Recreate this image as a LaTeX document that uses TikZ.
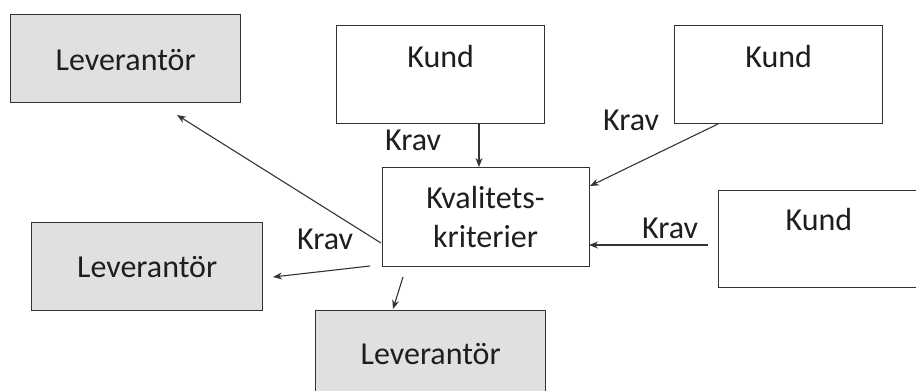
\documentclass[tikz,border=0pt]{standalone}
\usepackage{fontspec}
\setmainfont{Carlito}
\usetikzlibrary{arrows.meta}
\definecolor{boxgray}{HTML}{E0E0E0}
\definecolor{linecol}{HTML}{333333}
\definecolor{txtcol}{HTML}{1E1E1E}
\begin{document}
\begin{tikzpicture}[x=1pt,y=-1pt,
  every node/.style={font=\fontsize{32}{39}\selectfont, text=txtcol},
  boxbase/.style={draw=linecol, line width=1.4pt, rectangle, inner sep=0pt, anchor=north west},
  levbox/.style={boxbase, fill=boxgray},
  kundbox/.style={boxbase, fill=white},
  arr/.style={draw=linecol, line width=1.1pt, -{Stealth[length=9pt,width=7pt]}},
  kravlbl/.style={anchor=base west, inner sep=0pt}
]
\useasboundingbox (0,0) rectangle (916,391);
% boxes (north west corners, sizes in px)
\node[levbox, minimum width=230pt, text height=56pt, text depth=32pt] (lev1) at (10,14) {Leverantör};
\node[levbox, minimum width=231pt, text height=55pt, text depth=33pt] (lev2) at (31,222) {Leverantör};
\node[levbox, minimum width=230pt, text height=54pt, text depth=46pt] (lev3) at (315,310) {Leverantör};
\node[kundbox, minimum width=208pt, text height=42pt, text depth=56pt] (k1) at (336,25) {Kund};
\node[kundbox, minimum width=208pt, text height=42pt, text depth=56pt] (k2) at (674,25) {Kund};
\node[kundbox, minimum width=230pt, text height=40pt, text depth=57pt, text width=200pt, align=left] (k3) at (718,190) {\hspace*{52pt}Kund};
\node[kundbox, minimum width=207pt, minimum height=99pt] (kval) at (382,167) {};
\node[anchor=base, inner sep=0pt, align=center] (kvaltxt) at (485.5,247) {Kvalitets-\\kriterier};
% labels
\node[kravlbl] (kr1) at (385,150) {Krav};
\node[kravlbl] (kr2) at (603,130) {Krav};
\node[kravlbl] (kr3) at (297,249) {Krav};
\node[kravlbl] (kr4) at (642,238) {Krav};
% connector end points
\coordinate (a1s) at (479,123);  \coordinate (a1e) at (479,167);
\coordinate (a2s) at (718,124);  \coordinate (a2e) at (590,186);
\coordinate (a3s) at (708,245);  \coordinate (a3e) at (589,245);
\coordinate (a4s) at (381,243);  \coordinate (a4e) at (177,115);
\coordinate (a5s) at (370,266);  \coordinate (a5e) at (273,277);
\coordinate (a6s) at (403,277);  \coordinate (a6e) at (393,309);
\draw[arr] (a1s) -- (a1e);
\draw[arr] (a2s) -- (a2e);
\draw[arr] (a3s) -- (a3e);
\draw[arr] (a4s) -- (a4e);
\draw[arr] (a5s) -- (a5e);
\draw[arr] (a6s) -- (a6e);
\end{tikzpicture}
\end{document}
